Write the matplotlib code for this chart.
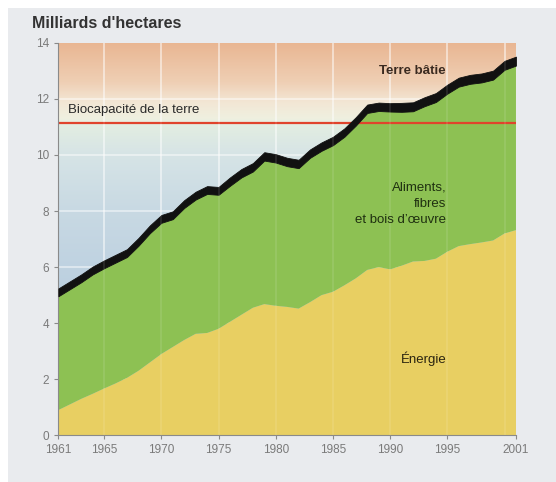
import matplotlib
matplotlib.use("Agg")
import matplotlib.pyplot as plt
import numpy as np
from matplotlib.colors import LinearSegmentedColormap
from matplotlib.patches import Rectangle

plt.rcParams['font.family'] = ['Liberation Sans', 'DejaVu Sans']

# Empreinte écologique mondiale, 1961-2001 (milliards d'hectares)
annees = np.arange(1961, 2002)
energie = [0.90, 1.10, 1.30, 1.48, 1.67, 1.85, 2.05, 2.30, 2.60, 2.90,
           3.15, 3.40, 3.62, 3.65, 3.80, 4.05, 4.30, 4.55, 4.68, 4.62,
           4.58, 4.52, 4.75, 5.00, 5.12, 5.35, 5.60, 5.90, 6.00, 5.92,
           6.05, 6.20, 6.22, 6.30, 6.55, 6.75, 6.82, 6.88, 6.95, 7.20,
           7.32]
aliments = [4.06, 4.11, 4.16, 4.26, 4.29, 4.31, 4.31, 4.46, 4.61, 4.68,
            4.56, 4.71, 4.79, 4.96, 4.78, 4.85, 4.90, 4.86, 5.12, 5.11,
            5.02, 5.01, 5.15, 5.15, 5.23, 5.30, 5.45, 5.60, 5.57, 5.63,
            5.49, 5.36, 5.52, 5.59, 5.64, 5.69, 5.72, 5.71, 5.74, 5.84,
            5.87]
terre_batie = [0.28] * 15 + [0.30] * 15 + [0.32] * 11
biocapacite = 11.15

xticks = [1961, 1965, 1970, 1975, 1980, 1985, 1990, 1995, 2001]
yticks = [0, 2, 4, 6, 8, 10, 12, 14]

fig = plt.figure(figsize=(5.56, 4.82), dpi=100, facecolor='white')
fig.patches.append(Rectangle((8 / 556, 0), 1, 1 - 8 / 482, transform=fig.transFigure,
                             facecolor='#e9ebee', edgecolor='none', zorder=-5))
ax = fig.add_axes([0.105, 0.097, 0.823, 0.814])

# fond dégradé : bleu en bas, crème vers la biocapacité, saumon en haut
fond = LinearSegmentedColormap.from_list('fond', [
    (0.0, '#b6cce0'), (5 / 14, '#bbcfe0'), (8 / 14, '#c8d9e3'),
    (10 / 14, '#d6e4e6'), (11.1 / 14, '#e3eee1'), (11.3 / 14, '#eff0e0'),
    (11.9 / 14, '#f3e6d4'), (12.6 / 14, '#efcfb4'), (1.0, '#e9b692')])
grad = np.linspace(0, 1, 256).reshape(-1, 1)
ax.imshow(grad, cmap=fond, origin='lower', aspect='auto',
          extent=[1961, 2001, 0, 14], zorder=0)

# grille blanche
for x in range(1965, 2001, 5):
    ax.axvline(x, color='white', lw=1.3, alpha=0.5, zorder=1)
    ax.axvline(x, color='white', lw=1.3, alpha=0.1, zorder=4)
for y in yticks[1:-1]:
    ax.axhline(y, color='white', lw=1.3, alpha=0.5, zorder=1)

polys = ax.stackplot(annees, energie, aliments, terre_batie,
                     colors=['#e8cf62', '#8dc153', '#111111'], lw=0)
polys[0].set_zorder(2)
polys[1].set_zorder(2)
polys[2].set_zorder(3)
polys[2].set_edgecolor('#111111')
polys[2].set_linewidth(0.6)

ax.axhline(biocapacite, color='#e0442c', lw=1.6, zorder=2.5)

ax.set_xlim(1961, 2001)
ax.set_ylim(0, 14)
ax.set_xticks(xticks)
ax.set_yticks(yticks)
ax.tick_params(colors='#8a8a8a', labelcolor='#7a7a7a', labelsize=8.5,
               length=3, width=0.8)
for s in ['top', 'right']:
    ax.spines[s].set_visible(False)
for s in ['left', 'bottom']:
    ax.spines[s].set_color('#8a8a8a')
    ax.spines[s].set_linewidth(0.8)

fig.text(32 / 556, 1 - 24 / 482, "Milliards d'hectares", fontsize=11.5,
         fontweight='bold', color='#333333', va='center', ha='left')

ax.text(1961.85, 11.6, 'Biocapacité de la terre', fontsize=9.5,
        color='#2a2a2a', va='center', ha='left', zorder=5)
ax.text(1991.9, 13.0, 'Terre bâtie', fontsize=9.5, color='#3a2a20',
        va='center', ha='center', fontweight='bold', zorder=5)
ax.text(1994.9, 8.25, 'Aliments,\nfibres\net bois d\u2019œuvre', fontsize=9.5,
        color='#1f3010', va='center', ha='right', linespacing=1.45, zorder=5)
ax.text(1994.9, 2.72, 'Énergie', fontsize=9.5, color='#2a2410',
        va='center', ha='right', zorder=5)

fig.savefig('out.png', dpi=100, facecolor=fig.get_facecolor())
